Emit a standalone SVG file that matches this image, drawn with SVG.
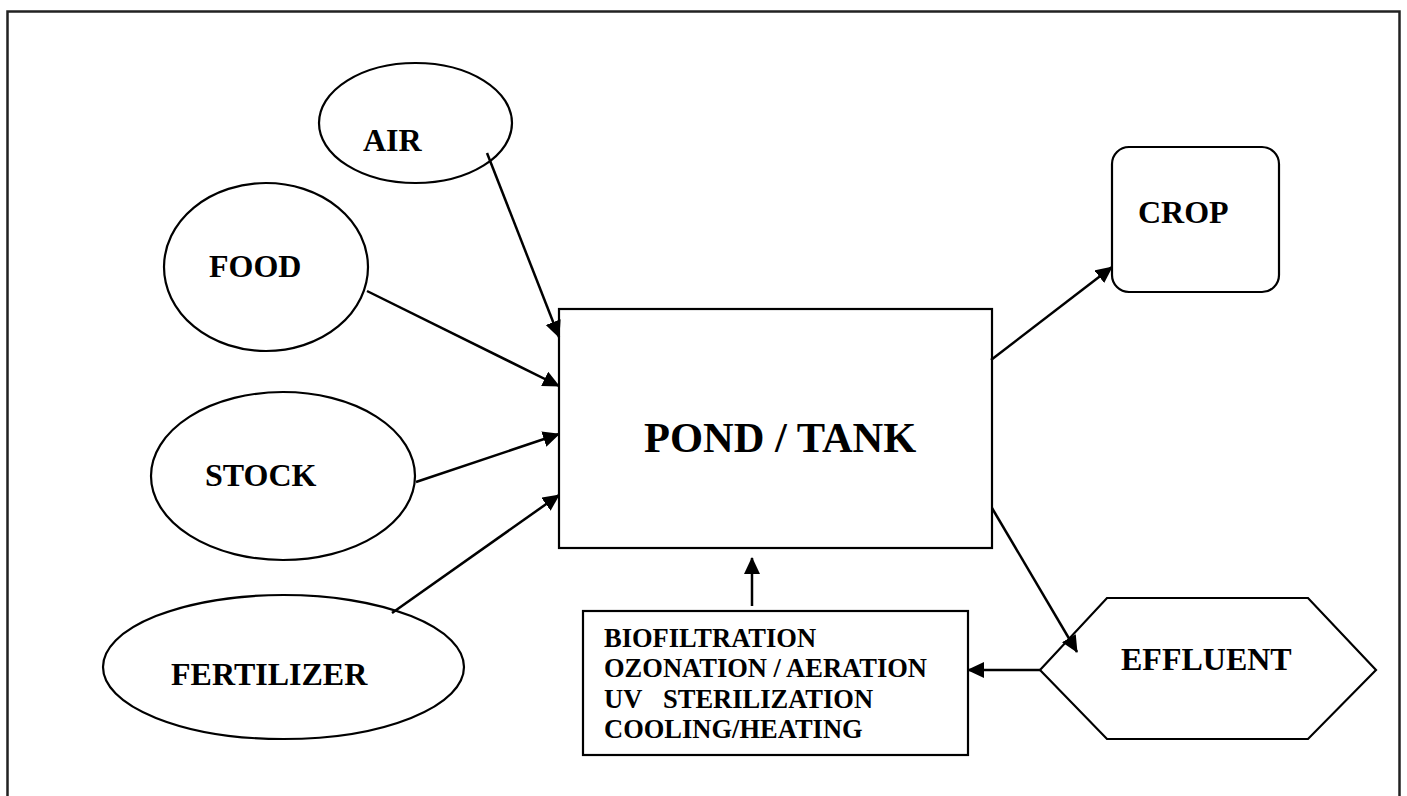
<svg xmlns="http://www.w3.org/2000/svg" width="1407" height="796" viewBox="0 0 1407 796">
<style>
  .shape { fill: #ffffff; stroke: #000000; stroke-width: 2.2; }
  .lbl { font-family: "Liberation Serif", "Times New Roman", serif; font-weight: bold; fill: #000000; font-size: 32px; }
  .big { font-size: 42.5px; }
  .small { font-size: 26.5px; }
  .conn { fill: none; stroke: #000000; stroke-width: 2.5; }
</style>
<defs>
  <marker id="arrow" markerUnits="userSpaceOnUse" markerWidth="20" markerHeight="20" refX="16" refY="8" orient="auto">
    <path d="M0,0 L17,8 L0,16 z" fill="#000000"/>
  </marker>
</defs>
<rect width="1407" height="796" fill="#ffffff"/>
<rect id="frame" x="7.5" y="11.5" width="1392" height="800" fill="none" stroke="#222222" stroke-width="2.5"/>

<g id="air">
  <ellipse class="shape" cx="415.5" cy="123" rx="96.5" ry="60"/>
  <text class="lbl" x="363" y="151">AIR</text>
</g>
<g id="food">
  <ellipse class="shape" cx="266" cy="267" rx="102" ry="84"/>
  <text class="lbl" x="209" y="277">FOOD</text>
</g>
<g id="stock">
  <ellipse class="shape" cx="283" cy="476" rx="132" ry="84"/>
  <text class="lbl" x="205" y="486">STOCK</text>
</g>
<g id="fertilizer">
  <ellipse class="shape" cx="283.5" cy="667" rx="180.5" ry="72"/>
  <text class="lbl" x="171" y="685">FERTILIZER</text>
</g>
<g id="pond">
  <rect class="shape" x="559" y="309" width="433" height="239"/>
  <text class="lbl big" x="644" y="452">POND / TANK</text>
</g>
<g id="crop">
  <rect class="shape" x="1112" y="147" width="167" height="145" rx="17" ry="17"/>
  <text class="lbl" x="1138" y="223">CROP</text>
</g>
<g id="effluent">
  <polygon class="shape" points="1040,670 1107,598 1308,598 1376,670 1308,739 1107,739"/>
  <text class="lbl" x="1121" y="670">EFFLUENT</text>
</g>
<g id="treatment">
  <rect class="shape" x="583" y="611" width="385" height="144"/>
  <text class="lbl small" x="604" y="647">BIOFILTRATION</text>
  <text class="lbl small" x="604" y="677">OZONATION / AERATION</text>
  <text class="lbl small" y="708"><tspan x="604">UV</tspan><tspan x="663">STERILIZATION</tspan></text>
  <text class="lbl small" x="604" y="738">COOLING/HEATING</text>
</g>

<g id="connectors">
  <line class="conn" x1="487" y1="153" x2="559" y2="337" marker-end="url(#arrow)"/>
  <line class="conn" x1="367" y1="291" x2="559" y2="386" marker-end="url(#arrow)"/>
  <line class="conn" x1="416" y1="482" x2="559" y2="434" marker-end="url(#arrow)"/>
  <line class="conn" x1="392" y1="613" x2="559" y2="495" marker-end="url(#arrow)"/>
  <line class="conn" x1="991" y1="360" x2="1112" y2="267" marker-end="url(#arrow)"/>
  <line class="conn" x1="992" y1="508" x2="1077" y2="652" marker-end="url(#arrow)"/>
  <line class="conn" x1="1040" y1="670" x2="968" y2="670" marker-end="url(#arrow)"/>
  <line class="conn" x1="752" y1="606" x2="752" y2="558" marker-end="url(#arrow)"/>
</g>
</svg>
